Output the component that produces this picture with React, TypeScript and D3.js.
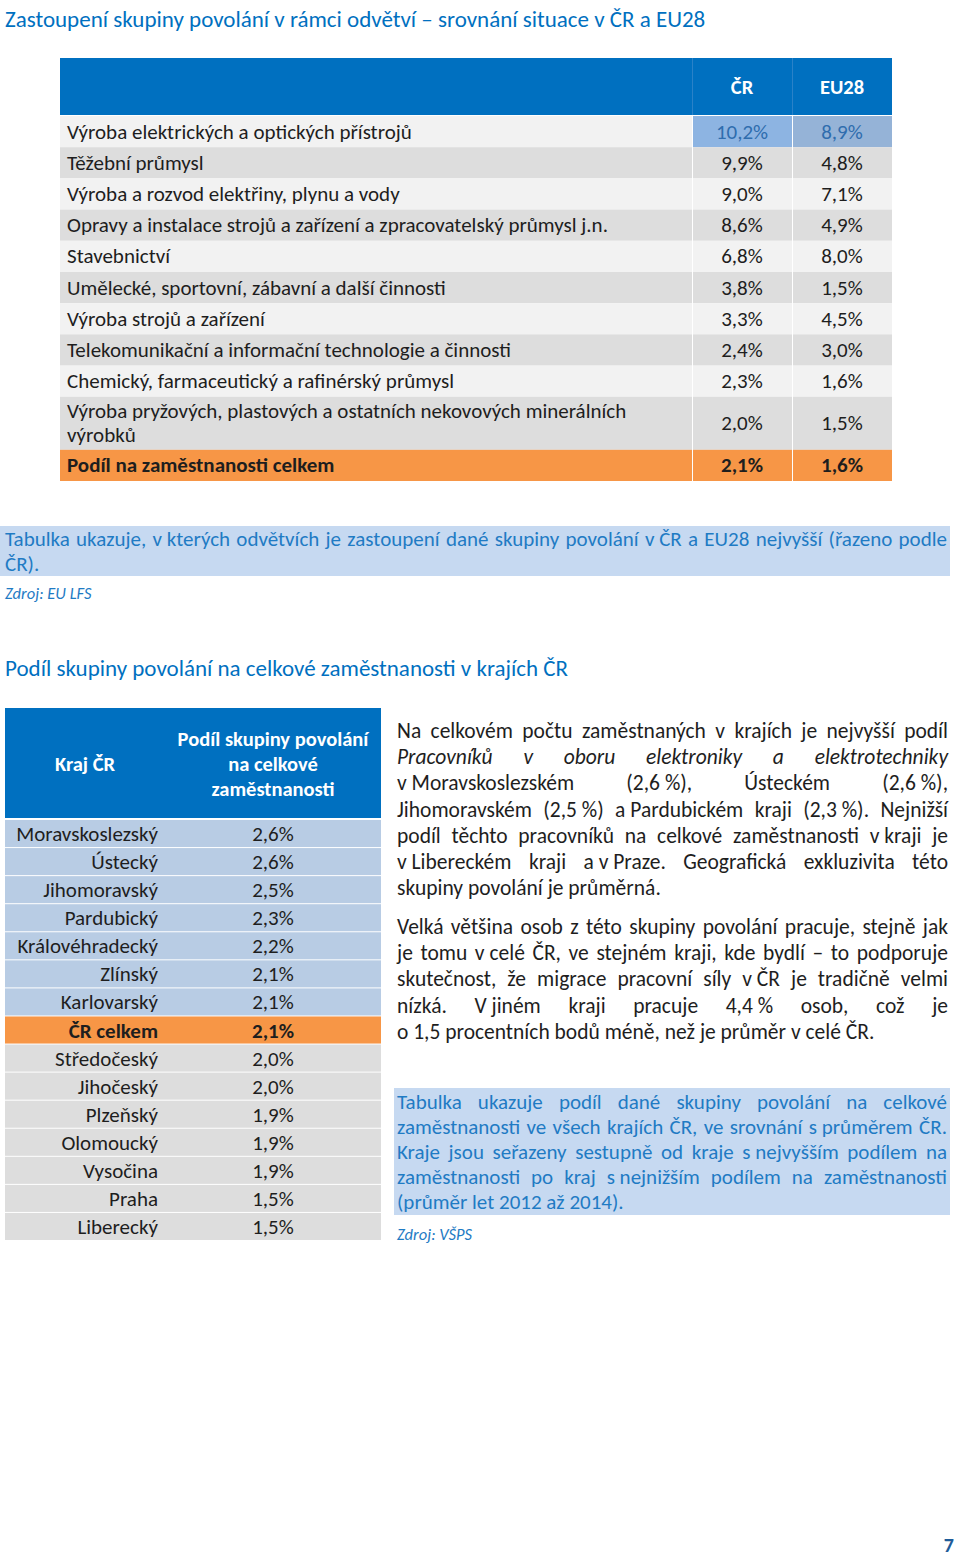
import * as d3 from 'd3';
import { useEffect } from 'react';

// ---- data ----
const sectorLabels = [
  ['Výroba elektrických a optických přístrojů'],
  ['Těžební průmysl'],
  ['Výroba a rozvod elektřiny, plynu a vody'],
  ['Opravy a instalace strojů a zařízení a zpracovatelský průmysl j.n.'],
  ['Stavebnictví'],
  ['Umělecké, sportovní, zábavní a další činnosti'],
  ['Výroba strojů a zařízení'],
  ['Telekomunikační a informační technologie a činnosti'],
  ['Chemický, farmaceutický a rafinérský průmysl'],
  ['Výroba pryžových, plastových a ostatních nekovových minerálních', 'výrobků'],
];
const sectorCR = [10.2, 9.9, 9.0, 8.6, 6.8, 3.8, 3.3, 2.4, 2.3, 2.0];
const sectorEU = [8.9, 4.8, 7.1, 4.9, 8.0, 1.5, 4.5, 3.0, 1.6, 1.5];
const totalLabel = 'Podíl na zaměstnanosti celkem';
const totalCR = 2.1;
const totalEU = 1.6;
const columnHeaders = ['ČR', 'EU28'];

const regions = [
  'Moravskoslezský', 'Ústecký', 'Jihomoravský', 'Pardubický', 'Královéhradecký',
  'Zlínský', 'Karlovarský', 'ČR celkem', 'Středočeský', 'Jihočeský', 'Plzeňský',
  'Olomoucký', 'Vysočina', 'Praha', 'Liberecký',
];
const regionShare = [2.6, 2.6, 2.5, 2.3, 2.2, 2.1, 2.1, 2.1, 2.0, 2.0, 1.9, 1.9, 1.9, 1.5, 1.5];
const regionTotalName = 'ČR celkem';
const regionHeader1 = 'Kraj ČR';
const regionHeader2 = ['Podíl skupiny povolání', 'na celkové', 'zaměstnanosti'];

const title1 = 'Zastoupení skupiny povolání v rámci odvětví – srovnání situace v ČR a EU28';
const title2 = 'Podíl skupiny povolání na celkové zaměstnanosti v krajích ČR';
const caption1 = [
  'Tabulka ukazuje, v\u00A0kterých odvětvích je zastoupení dané skupiny povolání v\u00A0ČR a EU28 nejvyšší (řazeno podle',
  'ČR).',
];
const source1 = 'Zdroj: EU LFS';
const para1 = [
  { t: 'Na celkovém počtu zaměstnaných v krajích je nejvyšší podíl' },
  { t: 'Pracovníků v oboru elektroniky a elektrotechniky', i: true },
  { t: 'v\u00A0Moravskoslezském (2,6\u00A0%), Ústeckém (2,6\u00A0%),' },
  { t: 'Jihomoravském (2,5\u00A0%) a\u00A0Pardubickém kraji (2,3\u00A0%). Nejnižší' },
  { t: 'podíl těchto pracovníků na celkové zaměstnanosti v\u00A0kraji je' },
  { t: 'v\u00A0Libereckém kraji a\u00A0v\u00A0Praze. Geografická exkluzivita této' },
  { t: 'skupiny povolání je průměrná.' },
];
const para2 = [
  { t: 'Velká většina osob z této skupiny povolání pracuje, stejně jak' },
  { t: 'je tomu v\u00A0celé ČR, ve stejném kraji, kde bydlí – to podporuje' },
  { t: 'skutečnost, že migrace pracovní síly v\u00A0ČR je tradičně velmi' },
  { t: 'nízká. V\u00A0jiném kraji pracuje 4,4\u00A0% osob, což je' },
  { t: 'o\u00A01,5 procentních bodů méně, než je průměr v\u00A0celé ČR.' },
];
const caption2 = [
  { t: 'Tabulka ukazuje podíl dané skupiny povolání na celkové' },
  { t: 'zaměstnanosti ve všech krajích ČR, ve srovnání s\u00A0průměrem ČR.' },
  { t: 'Kraje jsou seřazeny sestupně od kraje s\u00A0nejvyšším podílem na' },
  { t: 'zaměstnanosti po kraj s\u00A0nejnižším podílem na zaměstnanosti' },
  { t: '(průměr let 2012 až 2014).' },
];
const source2 = 'Zdroj: VŠPS';
const pageNo = '7';

// ---- styles ----
const FONT = 'Carlito, Lato, sans-serif';
const BLUE = '#0070C0';
const CAP_BLUE = '#1F7BC4';
const CAP_BG = '#C6D9F1';
const ORANGE = '#F79646';
const TEXT = '#1e1e1e';
const BODY = 21.5;

const fmt = d3.formatLocale({ decimal: ',', thousands: ' ', grouping: [3], currency: ['', ''] }).format('.1f');
const pct = (v: number) => fmt(v) + '%';

const canvas = document.createElement('canvas');
const ctx = canvas.getContext('2d')!;
function measure(s: string, size: number, italic = false, weight = 400) {
  ctx.font = `${italic ? 'italic ' : ''}${weight} ${size}px ${FONT}`;
  return ctx.measureText(s).width;
}

type Line = { t: string; i?: boolean };

function Justified({ lines, x, width, y0, lh, size, color }: { lines: Line[]; x: number; width: number; y0: number; lh: number; size: number; color: string }) {
  return (
    <g>
      {lines.map((ln, k) => {
        const words = ln.t.split(' ');
        const ws = words.map((w) => measure(w, size, ln.i));
        const last = k === lines.length - 1;
        const space = measure(' ', size, ln.i);
        const gap = last || words.length < 2 ? space : (width - d3.sum(ws)) / (words.length - 1);
        let cx = x;
        return (
          <text key={k} y={y0 + k * lh} fontSize={size} fill={color} fontStyle={ln.i ? 'italic' : 'normal'} fontFamily={FONT}>
            {words.map((w, j) => {
              const px = cx;
              cx += ws[j] + gap;
              return <tspan key={j} x={px}>{w}</tspan>;
            })}
          </text>
        );
      })}
    </g>
  );
}

function SectorTable() {
  const cols = [60, 692, 792, 892];
  const units = sectorLabels.map((l) => (l.length > 1 ? 1.7 : 1)).concat([1]);
  const cum = [0, ...d3.cumsum(units)];
  const y = d3.scaleLinear().domain([0, d3.sum(units)]).range([116, 481]);
  const rows = sectorLabels.map((lab, i) => ({ lab, cr: sectorCR[i], eu: sectorEU[i], total: false }))
    .concat([{ lab: [totalLabel], cr: totalCR, eu: totalEU, total: true }]);
  const fs = 21;
  return (
    <g fontFamily={FONT}>
      <rect x={cols[0]} y={58} width={cols[3] - cols[0]} height={57} fill={BLUE} />
      <line x1={cols[1] + 0.5} x2={cols[1] + 0.5} y1={58} y2={115} stroke="#2a82c8" />
      <line x1={cols[2] + 0.5} x2={cols[2] + 0.5} y1={58} y2={115} stroke="#2a82c8" />
      {columnHeaders.map((h, i) => (
        <text key={h} x={(cols[i + 1] + cols[i + 2]) / 2} y={94} textAnchor="middle" fill="#fff" fontWeight={700} fontSize={20.5}>{h}</text>
      ))}
      {rows.map((r, i) => {
        const y0 = y(cum[i]);
        const y1 = y(cum[i + 1]);
        const mid = (y0 + y1) / 2;
        const bg = r.total ? ORANGE : i % 2 === 0 ? '#F2F2F2' : '#DDDDDD';
        const hi = i === 0;
        const fw = r.total ? 700 : 400;
        const vcol = hi ? '#2F6DAE' : TEXT;
        return (
          <g key={i}>
            <rect x={cols[0]} y={y0} width={cols[1] - cols[0]} height={y1 - y0} fill={bg} />
            <rect x={cols[1] + 1} y={y0} width={cols[2] - cols[1] - 1} height={y1 - y0} fill={hi ? '#8DB4E2' : bg} />
            <rect x={cols[2] + 1} y={y0} width={cols[3] - cols[2] - 1} height={y1 - y0} fill={hi ? '#95B3D7' : bg} />
            {r.lab.map((t, k) => (
              <text key={k} x={67} y={mid + 7 + (k - (r.lab.length - 1) / 2) * 24} fontSize={fs} fill={TEXT} fontWeight={fw}>{t}</text>
            ))}
            <text x={(cols[1] + cols[2]) / 2} y={mid + 7} textAnchor="middle" fontSize={fs} fill={vcol} fontWeight={fw}>{pct(r.cr)}</text>
            <text x={(cols[2] + cols[3]) / 2} y={mid + 7} textAnchor="middle" fontSize={fs} fill={vcol} fontWeight={fw}>{pct(r.eu)}</text>
          </g>
        );
      })}
    </g>
  );
}

function RegionTable() {
  const x0 = 5, xSplit = 165, x1 = 381;
  const y = d3.scaleBand<string>().domain(regions).range([820, 1241]).paddingInner(0);
  const totalIdx = regions.indexOf(regionTotalName);
  const fs = 21;
  const valX = (xSplit + x1) / 2;
  return (
    <g fontFamily={FONT}>
      <rect x={x0} y={708} width={x1 - x0} height={110} fill={BLUE} />
      <text x={(x0 + xSplit) / 2} y={771} textAnchor="middle" fill="#fff" fontWeight={700} fontSize={20.5}>{regionHeader1}</text>
      {regionHeader2.map((t, k) => (
        <text key={k} x={valX} y={746 + k * 25} textAnchor="middle" fill="#fff" fontWeight={700} fontSize={20.5}>{t}</text>
      ))}
      {regions.map((r, i) => {
        const yy = y(r)!;
        const bg = i === totalIdx ? ORANGE : i < totalIdx ? '#B8CCE4' : '#DDDDDD';
        const fw = i === totalIdx ? 700 : 400;
        const mid = yy + y.bandwidth() / 2;
        return (
          <g key={r}>
            <rect x={x0} y={yy} width={x1 - x0} height={y.bandwidth() - 1} fill={bg} />
            <text x={158} y={mid + 7} textAnchor="end" fontSize={fs} fill={TEXT} fontWeight={fw}>{r}</text>
            <text x={valX} y={mid + 7} textAnchor="middle" fontSize={fs} fill={TEXT} fontWeight={fw}>{pct(regionShare[i])}</text>
          </g>
        );
      })}
    </g>
  );
}

export default function App() {
  useEffect(() => {
    document.body.style.margin = '0';
  }, []);
  return (
    <svg width={960} height={1559} style={{ display: 'block', background: '#fff' }}>
      <text x={5} y={27} fontFamily={FONT} fontSize={23} fill={BLUE} fontWeight={300}>{title1}</text>
      <SectorTable />

      <rect x={0} y={526} width={950} height={50} fill={CAP_BG} />
      <Justified lines={caption1.map((t) => ({ t }))} x={5} width={942} y0={546} lh={25} size={21} color={CAP_BLUE} />
      <text x={5} y={599} fontFamily={FONT} fontSize={16.5} fontStyle="italic" fill={CAP_BLUE}>{source1}</text>

      <text x={5} y={676} fontFamily={FONT} fontSize={23} fill={BLUE}>{title2}</text>
      <RegionTable />

      <Justified lines={para1} x={397} width={551} y0={738} lh={26.2} size={BODY} color={TEXT} />
      <Justified lines={para2} x={397} width={551} y0={934} lh={26.2} size={BODY} color={TEXT} />

      <rect x={394} y={1088} width={556} height={127} fill={CAP_BG} />
      <Justified lines={caption2} x={397} width={550} y0={1109} lh={25} size={21} color={CAP_BLUE} />
      <text x={397} y={1240} fontFamily={FONT} fontSize={16.5} fontStyle="italic" fill={CAP_BLUE}>{source2}</text>

      <text x={954} y={1552} textAnchor="end" fontFamily={FONT} fontSize={20} fontWeight={700} fill="#1F5C99">{pageNo}</text>
    </svg>
  );
}
